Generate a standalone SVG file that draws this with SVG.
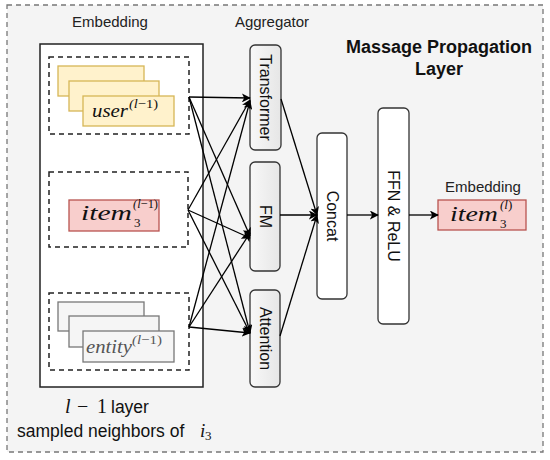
<svg xmlns="http://www.w3.org/2000/svg" width="550" height="460" viewBox="0 0 550 460">
<style>
.lbl{font-family:"Liberation Sans",Arial,sans-serif;font-size:15px;fill:#222}
.rot{font-family:"Liberation Sans",Arial,sans-serif;font-size:16px;fill:#111;text-anchor:middle;dominant-baseline:central}
.math{font-family:"Liberation Serif","Times New Roman",serif;font-style:italic;fill:#111}
.up{font-style:normal}
.dash{fill:none;stroke:#222;stroke-width:1.5;stroke-dasharray:5 4}
.agg{fill:url(#g);stroke:#333;stroke-width:1.3}
.blk{fill:#fff;stroke:#333;stroke-width:1.3}
.user{fill:#fff2cc;stroke:#d6b656;stroke-width:1.3}
.item{fill:#f8cecc;stroke:#b85450;stroke-width:1.3}
.ent{fill:#f5f5f5;stroke:#777;stroke-width:1.3}
.edge{fill:none;stroke:#000;stroke-width:1.3}
.big{font-family:"Liberation Sans",Arial,sans-serif;font-size:18px;font-weight:bold;fill:#111}
.txt{font-family:"Liberation Sans",Arial,sans-serif;font-size:17.5px;fill:#111}
</style>
<defs>
<linearGradient id="g" x1="0" y1="0" x2="1" y2="0">
<stop offset="0" stop-color="#f8f8f8"/>
<stop offset="1" stop-color="#e6e6e6"/>
</linearGradient>
<marker id="ah" viewBox="0 0 10 10" refX="9" refY="5" markerWidth="9" markerHeight="9" markerUnits="userSpaceOnUse" orient="auto">
<path d="M0,0 L10,5 L0,10 L2.5,5 z" fill="#000"/>
</marker>
</defs>
<rect x="7" y="5" width="536" height="447" fill="#f4f4f4" stroke="#777" stroke-width="1.3" stroke-dasharray="5 4"/>
<g id="title">
<text class="big" x="439" y="53" text-anchor="middle">Massage Propagation</text>
<text class="big" x="439" y="75" text-anchor="middle">Layer</text>
</g>
<g id="labels">
<text class="lbl" x="110" y="27" text-anchor="middle">Embedding</text>
<text class="lbl" x="272" y="27" text-anchor="middle">Aggregator</text>
<text class="lbl" x="483" y="192" text-anchor="middle">Embedding</text>
</g>
<g id="neighbors">
<rect x="40" y="44" width="163" height="343" fill="#fff" stroke="#222" stroke-width="1.5"/>
<text y="413"><tspan class="math" x="65" style="font-size:20px">l</tspan><tspan x="77" style="font-family:'Liberation Serif',serif;font-size:20px;fill:#111">−</tspan><tspan x="97" style="font-family:'Liberation Serif',serif;font-size:20px;fill:#111">1</tspan><tspan class="txt" x="111">layer</tspan></text>
<text class="txt" x="17" y="437">sampled neighbors of</text>
<text y="437"><tspan class="math" x="200" style="font-size:19px">i</tspan><tspan x="205" y="440" style="font-family:'Liberation Serif',serif;font-size:13px;fill:#111">3</tspan></text>
</g>
<g id="user-group">
<rect class="dash" x="49" y="57" width="140" height="77"/>
<rect class="user" x="58" y="66" width="86" height="30"/>
<rect class="user" x="69" y="81" width="90" height="30"/>
<rect class="user" x="83" y="96" width="91" height="30"/>
<text class="math"><tspan x="92" y="117" style="font-size:19px" textLength="36" lengthAdjust="spacingAndGlyphs">user</tspan><tspan x="129" y="108" style="font-size:13px" textLength="29" lengthAdjust="spacingAndGlyphs">(l<tspan class="up">−1)</tspan></tspan></text>
</g>
<g id="item-group">
<rect class="dash" x="49" y="172" width="139" height="75"/>
<rect class="item" x="69" y="200" width="90" height="31"/>
<text class="math"><tspan x="81" y="220" style="font-size:20px" textLength="51" lengthAdjust="spacingAndGlyphs">item</tspan><tspan class="up" x="134" y="227" style="font-size:13px">3</tspan><tspan x="133" y="208" style="font-size:13px" textLength="25" lengthAdjust="spacingAndGlyphs">(l<tspan class="up">−1)</tspan></tspan></text>
</g>
<g id="entity-group">
<rect class="dash" x="49" y="293" width="140" height="77"/>
<rect class="ent" x="58" y="302" width="86" height="29"/>
<rect class="ent" x="69" y="316" width="90" height="31"/>
<rect class="ent" x="83" y="331" width="91" height="31"/>
<text class="math" style="fill:#555"><tspan x="86" y="353" style="font-size:19px" textLength="46" lengthAdjust="spacingAndGlyphs">entity</tspan><tspan x="132" y="344" style="font-size:13px" textLength="30" lengthAdjust="spacingAndGlyphs">(l<tspan class="up">−1)</tspan></tspan></text>
</g>
<g id="transformer">
<rect class="agg" x="250" y="45" width="31" height="105" rx="5"/>
<text class="rot" transform="translate(265.5,97.5) rotate(90)">Transformer</text>
</g>
<g id="fm">
<rect class="agg" x="250" y="162" width="30" height="109" rx="5"/>
<text class="rot" transform="translate(265,216.5) rotate(90)">FM</text>
</g>
<g id="attention">
<rect class="agg" x="250" y="290" width="30" height="97" rx="5"/>
<text class="rot" transform="translate(265,338.5) rotate(90)">Attention</text>
</g>
<g id="concat">
<rect class="blk" x="317" y="133" width="30" height="166" rx="5"/>
<text class="rot" transform="translate(332,216) rotate(90)">Concat</text>
</g>
<g id="ffn">
<rect class="blk" x="378" y="108" width="31" height="216" rx="5"/>
<text class="rot" transform="translate(393.5,216) rotate(90)">FFN &amp; ReLU</text>
</g>
<g id="output">
<rect class="item" x="438" y="200" width="88" height="30"/>
<text class="math"><tspan x="450" y="221" style="font-size:20px" textLength="48" lengthAdjust="spacingAndGlyphs">item</tspan><tspan class="up" x="500" y="228" style="font-size:13px">3</tspan><tspan x="500" y="209" style="font-size:13px">(l<tspan class="up">)</tspan></tspan></text>
</g>
<g id="connectors">
<path class="edge" marker-end="url(#ah)" d="M189,97 L250,98"/>
<path class="edge" marker-end="url(#ah)" d="M189,97 L250,236"/>
<path class="edge" marker-end="url(#ah)" d="M189,97 L250,333"/>
<path class="edge" marker-end="url(#ah)" d="M188,210 L250,100"/>
<path class="edge" marker-end="url(#ah)" d="M188,210 L250,238"/>
<path class="edge" marker-end="url(#ah)" d="M188,210 L250,333"/>
<path class="edge" marker-end="url(#ah)" d="M189,327 L250,101"/>
<path class="edge" marker-end="url(#ah)" d="M189,327 L250,233"/>
<path class="edge" marker-end="url(#ah)" d="M189,327 L250,333"/>
<path class="edge" marker-end="url(#ah)" d="M281,99 L317,215"/>
<path class="edge" marker-end="url(#ah)" d="M280,215 L317,215"/>
<path class="edge" marker-end="url(#ah)" d="M280,336 L317,215"/>
<path class="edge" marker-end="url(#ah)" d="M347,215 L378,215"/>
<path class="edge" marker-end="url(#ah)" d="M409,215 L438,215"/>
</g>
</svg>
